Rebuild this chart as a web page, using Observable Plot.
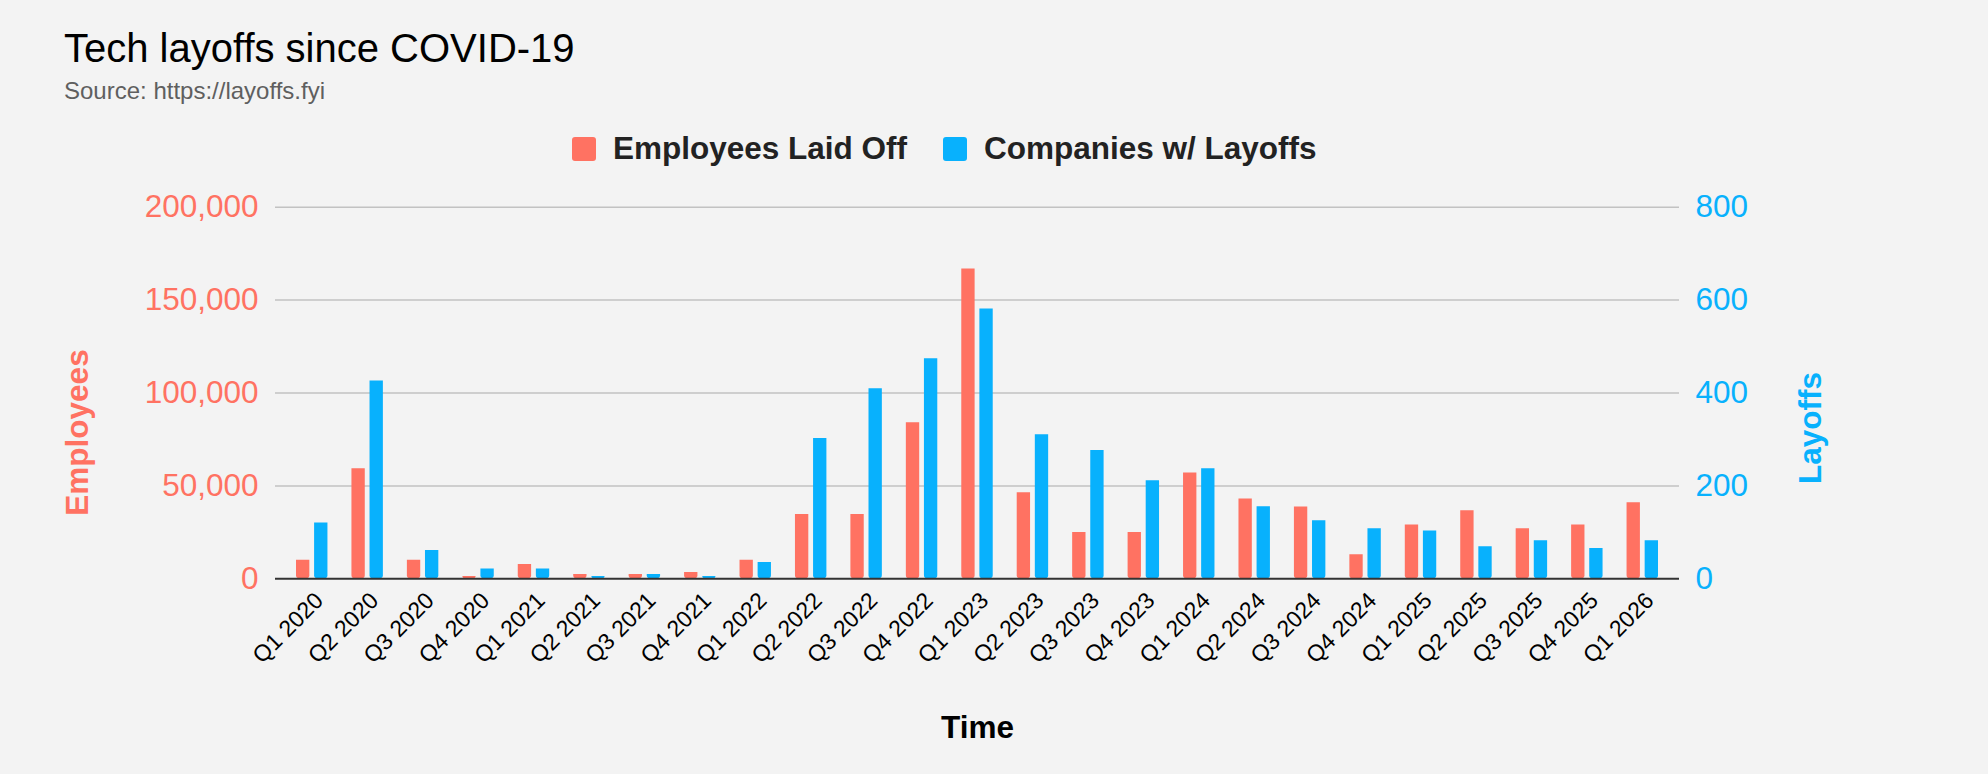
<!DOCTYPE html>
<html><head><meta charset="utf-8">
<script src="https://cdn.jsdelivr.net/npm/d3@7"></script>
<script src="https://cdn.jsdelivr.net/npm/@observablehq/plot@0.6"></script>
<style>
html,body{margin:0;padding:0;background:#f3f3f3;}
#wrap{position:relative;width:1988px;height:774px;overflow:hidden;font-family:Arial,"Liberation Sans",sans-serif;}
#chart{position:absolute;left:0;top:0;}
.t{position:absolute;white-space:nowrap;line-height:1;}
.sw{position:absolute;width:24px;height:23.5px;border-radius:3px;}
</style></head><body>
<div id="wrap">
  <div id="chart"></div>
  <div class="t" style="left:64px;top:28px;font-size:40px;color:#000">Tech layoffs since COVID-19</div>
  <div class="t" style="left:64px;top:79px;font-size:24px;color:#5f5f5f">Source: https://layoffs.fyi</div>
  <div class="sw" id="sw1" style="left:572px;top:137.3px"></div>
  <div class="t" id="lg1" style="left:613px;top:132.6px;font-size:31.5px;font-weight:bold;color:#222"></div>
  <div class="sw" id="sw2" style="left:943px;top:137.3px"></div>
  <div class="t" id="lg2" style="left:984px;top:132.6px;font-size:31.5px;font-weight:bold;color:#222"></div>
</div>
<script>
const quarters = ["Q1 2020","Q2 2020","Q3 2020","Q4 2020","Q1 2021","Q2 2021","Q3 2021","Q4 2021",
  "Q1 2022","Q2 2022","Q3 2022","Q4 2022","Q1 2023","Q2 2023","Q3 2023","Q4 2023",
  "Q1 2024","Q2 2024","Q3 2024","Q4 2024","Q1 2025","Q2 2025","Q3 2025","Q4 2025","Q1 2026"];
const employeesLaidOff = [10000,59200,10000,1200,7700,2300,2300,3400,
  10000,34600,34600,84000,166800,46300,24900,24900,
  57000,43000,38700,12900,29000,36600,26900,29000,40900];
const companiesWithLayoffs = [120,426,61,21,21,5,9,5,
  35,302,409,474,581,310,276,211,
  237,155,125,108,103,69,82,65,82];
const seriesNames = ["Employees Laid Off","Companies w/ Layoffs"];
const leftTicks = [0,50000,100000,150000,200000];
const rightTicks = [0,200,400,600,800];
const leftTitle = "Employees";
const rightTitle = "Layoffs";
const xTitle = "Time";

const RED = "#ff7262", BLUE = "#08b1fd";
const ratio = leftTicks[leftTicks.length-1] / rightTicks[rightTicks.length-1];

const rows = quarters.map((q,i)=>({quarter:q, employees:employeesLaidOff[i], companies:companiesWithLayoffs[i]*ratio}));

document.getElementById("sw1").style.background = RED;
document.getElementById("sw2").style.background = BLUE;
document.getElementById("lg1").textContent = seriesNames[0];
document.getElementById("lg2").textContent = seriesNames[1];

const chart = Plot.plot({
  width:1988, height:774,
  marginTop:206.7, marginBottom:195.7, marginLeft:275, marginRight:309,
  style:{background:"transparent", fontFamily:"Arial, 'Liberation Sans', sans-serif", overflow:"visible"},
  x:{domain:quarters, padding:0, round:false, insetLeft:9, insetRight:9},
  y:{domain:[0,200000]},
  marks:[
    Plot.ruleY(leftTicks.slice(1), {stroke:"#c2c2c2", strokeWidth:1.5}),
    Plot.barY(rows, {x:"quarter", y:"employees", fill:RED, insetLeft:12, insetRight:30.1, rx1y2:3, rx2y2:3}),
    Plot.barY(rows, {x:"quarter", y:"companies", fill:BLUE, insetLeft:30.1, insetRight:12, rx1y2:3, rx2y2:3}),
    Plot.ruleY([0], {stroke:"#333", strokeWidth:2}),
    Plot.axisY({ticks:leftTicks, tickFormat:d3.format(","), tickSize:0, tickPadding:17, color:RED, fontSize:31.5, label:null}),
    Plot.axisY({anchor:"right", ticks:leftTicks, tickFormat:d=>d3.format(",")(d/ratio), tickSize:0, tickPadding:16, color:BLUE, fontSize:31.5, label:null}),
    Plot.axisX({tickRotate:-45, tickSize:0, tickPadding:18, dx:7, fontSize:23, color:"#000", label:null}),
    Plot.text([leftTitle], {text:d=>d, frameAnchor:"left", textAnchor:"middle", lineAnchor:"middle", rotate:-90, dx:-197.5, dy:39.5, fill:RED, fontSize:31.5, fontWeight:"bold"}),
    Plot.text([rightTitle], {text:d=>d, frameAnchor:"right", textAnchor:"middle", lineAnchor:"middle", rotate:-90, dx:131.5, dy:35, fill:BLUE, fontSize:31.5, fontWeight:"bold"}),
    Plot.text([xTitle], {text:d=>d, frameAnchor:"bottom", textAnchor:"middle", lineAnchor:"middle", dy:148.7, fill:"#000", fontSize:31.5, fontWeight:"bold"})
  ]
});
document.getElementById("chart").appendChild(chart);
</script>
</body></html>
